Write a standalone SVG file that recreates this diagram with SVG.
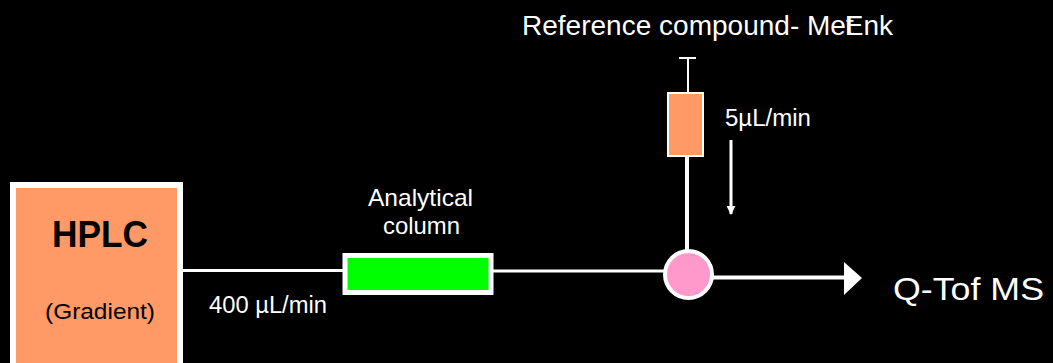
<svg xmlns="http://www.w3.org/2000/svg" width="1053" height="363" viewBox="0 0 1053 363">
  <style>
    .lbl { font-family: "Liberation Sans", Arial, sans-serif; fill: #ffffff; }
    .dark { font-family: "Liberation Sans", Arial, sans-serif; fill: #000000; }
    .wire { stroke: #ffffff; fill: none; }
  </style>
  <defs>
    <marker id="tip" viewBox="0 0 10 10" refX="9" refY="5" markerWidth="3" markerHeight="3" orient="auto">
      <path d="M0,0 L10,5 L0,10 Z" fill="#ffffff"/>
    </marker>
  </defs>
  <rect width="1053" height="363" fill="#000000"/>

  <!-- flow connectors -->
  <g id="connectors">
    <line class="wire" x1="178" y1="270.5" x2="346" y2="270.5" stroke-width="3"/>
    <line class="wire" x1="491" y1="271" x2="666" y2="271" stroke-width="3"/>
    <line class="wire" x1="711" y1="277.5" x2="846" y2="277.5" stroke-width="4"/>
    <polygon points="844,262 862,278 844,295" fill="#ffffff"/>
    <line class="wire" x1="687" y1="157" x2="687" y2="251" stroke-width="4"/>
    <line class="wire" x1="731" y1="140" x2="731" y2="214" stroke-width="3" marker-end="url(#tip)"/>
  </g>

  <!-- pump -->
  <g id="hplc">
    <rect x="13" y="185" width="167" height="200" fill="#FF9966" stroke="#ffffff" stroke-width="6"/>
    <text class="dark" x="100" y="247" font-size="37" font-weight="bold" text-anchor="middle" textLength="96" lengthAdjust="spacingAndGlyphs">HPLC</text>
    <text class="dark" x="100" y="319" font-size="22" text-anchor="middle" textLength="110" lengthAdjust="spacingAndGlyphs">(Gradient)</text>
  </g>

  <g id="flow-rate-main">
    <text class="lbl" x="209" y="313" font-size="23" textLength="118" lengthAdjust="spacingAndGlyphs">400 µL/min</text>
  </g>

  <!-- column -->
  <g id="column">
    <rect x="345" y="255.5" width="146" height="37" fill="#00FF00" stroke="#ffffff" stroke-width="5"/>
    <text class="lbl" x="420.5" y="206" font-size="24" text-anchor="middle" textLength="105" lengthAdjust="spacingAndGlyphs">Analytical</text>
    <text class="lbl" x="421.5" y="234" font-size="24" text-anchor="middle" textLength="77" lengthAdjust="spacingAndGlyphs">column</text>
  </g>

  <!-- reference infusion syringe -->
  <g id="syringe">
    <line class="wire" x1="679" y1="58" x2="696" y2="58" stroke-width="2"/>
    <line class="wire" x1="688" y1="58" x2="688" y2="97" stroke-width="2"/>
    <rect x="668" y="93" width="35" height="63" fill="#FF9966" stroke="#ffffff" stroke-width="2"/>
  </g>

  <g id="reference-label">
    <text class="lbl" x="522" y="35" font-size="28" dx="0 0 0 0 0 0 0 0 0 0 0 0 0 0 0 0 0 0 0 0 0 0 0 -9" textLength="371" lengthAdjust="spacingAndGlyphs">Reference compound- MetEnk</text>
  </g>

  <g id="flow-rate-ref">
    <text class="lbl" x="725" y="126" font-size="23" textLength="86" lengthAdjust="spacingAndGlyphs">5µL/min</text>
  </g>

  <!-- mixing tee -->
  <g id="tee">
    <circle cx="688.5" cy="274.5" r="23.5" fill="#FF99CC" stroke="#ffffff" stroke-width="4"/>
  </g>

  <!-- detector -->
  <g id="qtof">
    <text class="lbl" x="893" y="300" font-size="32" textLength="151" lengthAdjust="spacingAndGlyphs">Q-Tof MS</text>
  </g>
</svg>
